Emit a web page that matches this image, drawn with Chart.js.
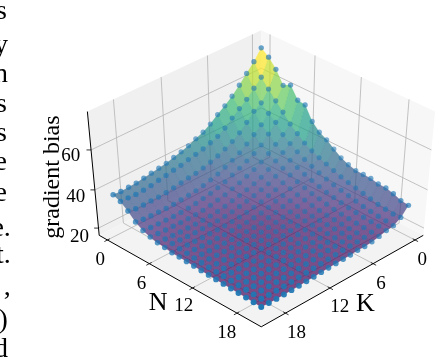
<!DOCTYPE html>
<html>
<head>
<meta charset="utf-8">
<style>
  body { margin: 0; background: #fff; }
  #biasChart { display: block; filter: blur(0.35px); }
</style>
<script src="https://cdn.jsdelivr.net/npm/chart.js@4"></script>
</head>
<body>
<canvas id="biasChart" width="440" height="362"></canvas>
<script>
// axis values
const nValues = [0,1,2,3,4,5,6,7,8,9,10,11,12,13,14,15,16,17,18,19,20];
const kValues = [0,1,2,3,4,5,6,7,8,9,10,11,12,13,14,15,16,17,18,19,20];
const nTicks = [0, 6, 12, 18];
const kTicks = [0, 6, 12, 18];
const zTicks = [20, 40, 60];

// gradient bias, one row per N, K runs left to right
const biasByN = [
  [74,69,65,61,57.3,54.3,51.7,48.8,46.5,45,43.3,42.1,41.1,40,39.4,38.8,38.2,37.6,37.4,37.2,37.5],
  [71.2,63.2,59.5,55.8,52.9,50,46.7,44.4,43,41.7,40.8,40,39,38.4,37.6,37.1,36.3,35.9,35.7,35.9,36],
  [67,59.1,54,51.6,47.8,44.3,41.7,39.8,38.1,36.8,35.7,34.9,34.4,33.8,33.2,32.6,32.3,32.3,32.2,32.3,33.1],
  [60.9,55,50.6,46.6,43.4,40.5,37.8,35.9,34.1,32.6,31.4,30.4,29.7,29.3,28.9,28.5,28.4,28.5,28.6,28.8,29.4],
  [62.8,51.2,47.8,43.7,40,37.5,35.5,33.6,32,30.5,29.3,28.3,27.6,27,26.5,26.3,26.2,26.3,26.4,26.5,27],
  [57.1,47,43.4,40.3,37.5,34.9,33,31.4,29.9,28.7,27.6,26.8,26,25.4,25.1,25,25,25.1,25.2,25.4,25.7],
  [56.5,43.9,40.7,38,35.5,33,30.8,29.4,28.2,27.2,26.4,25.5,24.8,24.4,24.2,24.2,24.2,24.2,24.4,24.6,24.7],
  [50.1,41,38.3,35.9,33.6,31.4,29.4,28.2,27.1,26.2,25.4,24.6,24.2,23.9,23.8,23.8,23.8,23.9,24.1,24.3,24.3],
  [46.5,38.8,36.3,34,32,29.9,28.2,27.1,25.9,25,24.3,23.8,23.5,23.3,23.2,23.2,23.3,23.4,23.5,23.7,23.7],
  [44.5,37.1,34.6,32.4,30.5,28.7,27.2,26.2,25,24,23.5,23.1,22.9,22.8,22.7,22.8,22.9,23,23.2,23.4,23.5],
  [41.6,35.8,33.2,31.1,29.3,27.6,26.4,25.4,24.3,23.5,22.6,22.4,22.3,22.2,22.3,22.4,22.5,22.6,22.8,23,23.3],
  [39,34.4,31.9,29.9,28.2,26.8,25.5,24.6,23.8,23.1,22.4,22,21.9,21.9,22,22.1,22.2,22.3,22.5,22.7,23.1],
  [37.4,33.1,30.8,28.9,27.4,26,24.8,24.2,23.5,22.9,22.3,21.9,21.7,21.7,21.7,21.8,21.9,22,22.1,22.4,22.9],
  [36.3,32,29.9,28.1,26.6,25.3,24.4,23.9,23.3,22.8,22.2,21.9,21.7,21.5,21.5,21.6,21.7,21.8,21.9,22.2,22.7],
  [36.2,31.1,29.1,27.4,25.9,24.8,24.1,23.7,23.2,22.7,22.3,22,21.7,21.5,21.4,21.4,21.5,21.6,21.7,22,22.5],
  [36.1,30.3,28.2,26.7,25.4,24.5,23.9,23.5,23.1,22.7,22.3,22,21.7,21.5,21.4,21.3,21.3,21.4,21.5,21.8,22.3],
  [35.2,29.4,27.4,26.2,25,24.2,23.7,23.3,23,22.7,22.4,22.1,21.8,21.6,21.4,21.3,21.2,21.2,21.3,21.6,22.1],
  [35.1,28.5,26.8,25.8,24.7,23.9,23.5,23.2,22.9,22.7,22.4,22.1,21.8,21.6,21.4,21.3,21.1,21.1,21.1,21.4,21.9],
  [34.1,28,26.3,25.5,24.4,23.7,23.3,23.1,22.9,22.7,22.4,22.1,21.9,21.7,21.4,21.2,21.1,21,21,21.2,21.7],
  [32.5,27.5,25.9,25.2,24.1,23.4,23.1,23,22.8,22.6,22.3,22.1,21.9,21.6,21.4,21.2,21,20.9,20.9,21.1,21.5],
  [32,27.7,25.4,24.9,23.9,23.1,22.7,22.8,22.5,22.4,22.3,22.1,21.9,21.7,21.5,21.3,21.2,21.1,21,21.1,21.2],
];

// the bit of page text left of the figure, cropped by the image edge
const pageText = ["s", "y", "n", "s", "s", "e", "e", "e.", "t.", ",", "0)", "d"];
const pageTextY = [15, 50, 80, 110, 140, 170, 201, 237, 265, 298, 331, 361];
const pageTextX = [3, 4, 4, 3, 3, 3, 3, 7, 7, 7, 4, 4];

// camera fitted to the box corners
const box = { min: -1.2, max: 21.2, zMin: 16.1, zMax: 78.4 };
const cam = { elev: 43.4, h: 0.957, dist: 18.7, fx: 2259, fy: 1700, cx: 262, cy: 175.5 };
const sinE = Math.sin(cam.elev * Math.PI / 180);
const cosE = Math.cos(cam.elev * Math.PI / 180);

function project(n, k, z) {
  const a = -1 + 2 * (n - box.min) / (box.max - box.min);
  const b = -1 + 2 * (k - box.min) / (box.max - box.min);
  const c = cam.h * (-1 + 2 * (z - box.zMin) / (box.zMax - box.zMin));
  const u = (a - b) / Math.SQRT2;
  const v = (a + b) / Math.SQRT2;
  const depth = v * cosE + c * sinE;
  const w = cam.dist - depth;
  return { x: cam.cx + cam.fx * u / w, y: cam.cy - cam.fy * (c * cosE - v * sinE) / w, depth };
}

const viridis = [[68,1,84],[72,40,120],[62,74,137],[49,104,142],[38,130,142],[31,158,137],[53,183,121],[109,205,89],[180,222,44],[253,231,37]];
function viridisAt(t) {
  const p = Math.max(0, Math.min(0.9999, t)) * (viridis.length - 1);
  const i = Math.floor(p);
  const f = p - i;
  return viridis[i].map((c, j) => Math.round(c + (viridis[i + 1][j] - c) * f));
}

const allBias = biasByN.flat();
const biasMin = Math.min(...allBias);
const colorTop = 69; // the peak quads already sit at full yellow in the reference

const points = [];
nValues.forEach((n, i) => {
  kValues.forEach((k, j) => {
    const p = project(n, k, biasByN[i][j]);
    points.push({ x: p.x, y: p.y, depth: p.depth });
  });
});
const depths = points.map((p) => p.depth);
const depthMin = Math.min(...depths);
const depthMax = Math.max(...depths);
const depthShare = (p) => (p.depth - depthMin) / (depthMax - depthMin);
const pointColors = points.map((p) => "rgba(31,119,180," + (0.5 + 0.5 * depthShare(p)).toFixed(2) + ")");
const pointSizes = points.map((p) => 2.5 + 0.5 * depthShare(p));

// walls, floor grid, ticks and labels, all through the chart scales
const boxPlugin = {
  id: "box3d",
  beforeDatasetsDraw(chart) {
    const ctx = chart.ctx;
    const sx = chart.scales.x;
    const sy = chart.scales.y;
    const px = (p) => [sx.getPixelForValue(p.x), sy.getPixelForValue(p.y)];
    const poly = (pts, fill, seam) => {
      ctx.beginPath();
      pts.forEach((p, i) => {
        const [x, y] = px(p);
        if (i === 0) ctx.moveTo(x, y);
        else ctx.lineTo(x, y);
      });
      ctx.closePath();
      ctx.fillStyle = fill;
      ctx.fill();
      if (seam) {
        ctx.strokeStyle = seam;
        ctx.lineWidth = 0.5;
        ctx.stroke();
      }
    };
    const line = (a, b, color, width) => {
      const [x1, y1] = px(a);
      const [x2, y2] = px(b);
      ctx.beginPath();
      ctx.moveTo(x1, y1);
      ctx.lineTo(x2, y2);
      ctx.strokeStyle = color;
      ctx.lineWidth = width;
      ctx.stroke();
    };
    const { min, max, zMin, zMax } = box;

    ctx.save();
    // panes
    poly([project(min, max, zMin), project(min, min, zMin), project(min, min, zMax), project(min, max, zMax)], "#f0f0f0");
    poly([project(min, min, zMin), project(max, min, zMin), project(max, min, zMax), project(min, min, zMax)], "#f7f7f7");
    poly([project(min, min, zMin), project(max, min, zMin), project(max, max, zMin), project(min, max, zMin)], "#f3f3f3");

    // grid
    const gridColor = "#b4b4b4";
    nTicks.forEach((n) => {
      line(project(n, min, zMin), project(n, max, zMin), gridColor, 0.8);
      line(project(n, min, zMin), project(n, min, zMax), gridColor, 0.8);
    });
    kTicks.forEach((k) => {
      line(project(min, k, zMin), project(max, k, zMin), gridColor, 0.8);
      line(project(min, k, zMin), project(min, k, zMax), gridColor, 0.8);
    });
    zTicks.forEach((z) => {
      line(project(min, max, z), project(min, min, z), gridColor, 0.8);
      line(project(min, min, z), project(max, min, z), gridColor, 0.8);
    });

    // axis lines
    line(project(min, max, zMin), project(max, max, zMin), "#000", 1);
    line(project(max, max, zMin), project(max, min, zMin), "#000", 1);
    line(project(min, max, zMin), project(min, max, zMax), "#000", 1);
    nTicks.forEach((n) => line(project(n, max - 0.3, zMin), project(n, max + 0.4, zMin), "#000", 0.8));
    kTicks.forEach((k) => line(project(max - 0.3, k, zMin), project(max + 0.4, k, zMin), "#000", 0.8));
    zTicks.forEach((z) => line(project(min - 0.3, max + 0.3, z), project(min, max, z), "#000", 0.8));

    // surface quads, far ones first
    const quads = [];
    for (let i = 0; i < nValues.length - 1; i++) {
      for (let j = 0; j < kValues.length - 1; j++) {
        const z = [biasByN[i][j], biasByN[i + 1][j], biasByN[i + 1][j + 1], biasByN[i][j + 1]];
        const corners = [
          project(nValues[i], kValues[j], z[0]),
          project(nValues[i + 1], kValues[j], z[1]),
          project(nValues[i + 1], kValues[j + 1], z[2]),
          project(nValues[i], kValues[j + 1], z[3]),
        ];
        quads.push({
          corners,
          depth: corners.reduce((s, c) => s + c.depth, 0) / 4,
          mean: (z[0] + z[1] + z[2] + z[3]) / 4,
        });
      }
    }
    quads.sort((a, b) => a.depth - b.depth);
    quads.forEach((q) => {
      const rgb = viridisAt((q.mean - biasMin) / (colorTop - biasMin));
      poly(q.corners, "rgba(" + rgb.join(",") + ",0.7)", "rgba(" + rgb.join(",") + ",0.3)");
    });
    ctx.restore();
  },
  afterDatasetsDraw(chart) {
    const ctx = chart.ctx;
    const sx = chart.scales.x;
    const sy = chart.scales.y;
    const text = (str, x, y) => ctx.fillText(str, sx.getPixelForValue(x), sy.getPixelForValue(y));
    ctx.save();
    ctx.fillStyle = "#000";
    ctx.textAlign = "center";
    ctx.textBaseline = "middle";

    ctx.font = "19px 'Liberation Serif'";
    const nLabelPos = [[98, 262], [140, 286], [183, 309], [227, 336]];
    const kLabelPos = [[426, 262], [384, 286], [342, 310], [298, 336]];
    nTicks.forEach((n, i) => text(String(n), nLabelPos[i][0], nLabelPos[i][1]));
    kTicks.forEach((k, i) => text(String(k), kLabelPos[i][0], kLabelPos[i][1]));
    const zLabelPos = [[77, 238], [73, 197], [68, 155]];
    zTicks.forEach((z, i) => text(String(z), zLabelPos[i][0], zLabelPos[i][1]));

    ctx.font = "26px 'Liberation Serif'";
    text("N", 157, 306);
    text("K", 368, 307);

    ctx.save();
    ctx.translate(sx.getPixelForValue(50), sy.getPixelForValue(177));
    ctx.rotate(-Math.PI / 2);
    ctx.font = "24px 'Liberation Serif'";
    ctx.fillText("gradient bias", 0, 0);
    ctx.restore();

    ctx.font = "28px 'Liberation Serif'";
    ctx.textAlign = "right";
    ctx.textBaseline = "alphabetic";
    pageText.forEach((t, i) => text(t, pageTextX[i], pageTextY[i]));
    ctx.restore();
  },
};

new Chart(document.getElementById("biasChart").getContext("2d"), {
  type: "scatter",
  data: {
    datasets: [
      {
        label: "gradient bias",
        data: points,
        pointBackgroundColor: pointColors,
        pointBorderWidth: 0,
        pointRadius: pointSizes,
      },
    ],
  },
  options: {
    responsive: false,
    animation: false,
    layout: { padding: 0 },
    plugins: { legend: { display: false }, tooltip: { enabled: false } },
    scales: {
      x: { type: "linear", min: 0, max: 440, display: false },
      y: { type: "linear", min: 0, max: 362, reverse: true, display: false },
    },
  },
  plugins: [boxPlugin],
});
</script>
</body>
</html>
